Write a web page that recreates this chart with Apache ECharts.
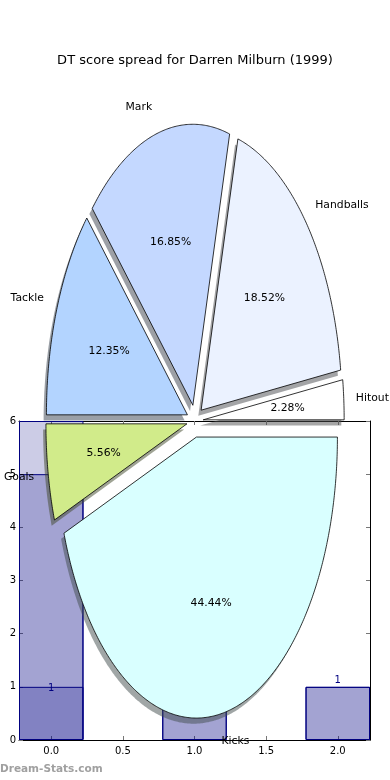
<!DOCTYPE html>
<html>
<head>
<meta charset="utf-8">
<script src="https://cdn.jsdelivr.net/npm/echarts@6/dist/echarts.min.js"></script>
<style>html,body{margin:0;padding:0;background:#fff}#c{width:390px;height:780px}</style>
</head>
<body>
<div id="c"></div>
<script>
// ---- data ----
const titleText = 'DT score spread for Darren Milburn (1999)';
const pieNames = ['Hitout', 'Handballs', 'Mark', 'Tackle', 'Goals', 'Kicks'];
const pieValues = [2.28, 18.52, 16.85, 12.35, 5.56, 44.44];
const barX = [0, 1, 2];
const barLayer1 = [6, 2, 1];
const barLayer2 = [5, 2, 1];
const barLayer3 = [1];
const xTicks = [0, 0.5, 1, 1.5, 2];
const yTicks = [0, 1, 2, 3, 4, 5, 6];

// ---- styles ----
const pieColors = ['#ffffff', '#ebf2ff', '#c4d8ff', '#b3d4ff', '#d1eb8a', '#d9ffff'];
const FONT = 'DejaVu Sans';
const EXPLODE = 0.058, SH_DX = -0.02, SH_DY = -0.02;
const BAR_UNITS = 0.45, X_MIN = -0.225, X_MAX = 2.225;
const G1 = {left: 19, top: 421, width: 351, height: 319};
const barWidthPx = G1.width * BAR_UNITS / (X_MAX - X_MIN);

const total = pieValues.reduce((a, b) => a + b, 0);
const startAcc = [];
{ let acc = 0; pieValues.forEach(v => { startAcc.push(acc); acc += v; }); }

function wedge(api, i, v, dx, dy) {
  const a0 = startAcc[i] / total * 2 * Math.PI;
  const a1 = (startAcc[i] + v) / total * 2 * Math.PI;
  const mid = (a0 + a1) / 2;
  const cx = EXPLODE * Math.cos(mid) + dx, cy = EXPLODE * Math.sin(mid) + dy;
  const pts = [api.coord([cx, cy])];
  const n = Math.max(4, Math.ceil((a1 - a0) / (Math.PI / 360)));
  for (let k = 0; k <= n; k++) {
    const a = a0 + (a1 - a0) * k / n;
    pts.push(api.coord([cx + Math.cos(a), cy + Math.sin(a)]));
  }
  return {pts, mid, cx, cy};
}
function shadowColor(hex) {
  const r = parseInt(hex.slice(1, 3), 16), g = parseInt(hex.slice(3, 5), 16), b = parseInt(hex.slice(5, 7), 16);
  return 'rgba(' + Math.round(r * 0.3) + ',' + Math.round(g * 0.3) + ',' + Math.round(b * 0.3) + ',0.5)';
}

const pieData = pieValues.map((v, i) => [i, v]);
const barFill = 'rgba(0,0,128,0.2)';
const barBase = {
  type: 'bar', xAxisIndex: 0, yAxisIndex: 0, barWidth: barWidthPx, barGap: '-100%', z: 2,
  itemStyle: {color: barFill, borderColor: '#000080', borderWidth: 1}
};
const tickStyle = {show: true, inside: true, length: 4, lineStyle: {color: '#777', width: 1}};

const chart = echarts.init(document.getElementById('c'), null, {renderer: 'canvas'});
chart.setOption({
  animation: false,
  backgroundColor: '#fff',
  title: {text: titleText, left: 'center', top: 54, padding: 0,
    textStyle: {fontSize: 13, fontWeight: 'normal', color: '#000', fontFamily: FONT}},
  graphic: [{type: 'text', left: 0, top: 764, style: {text: 'Dream-Stats.com', fill: '#a0a0a0',
    font: 'bold 10.5px "DejaVu Sans"'}}],
  grid: [
    Object.assign({}, G1, {containLabel: false}),
    {left: 54, top: 140, width: 282, height: 562, containLabel: false}
  ],
  xAxis: [
    {type: 'value', gridIndex: 0, min: X_MIN, max: X_MAX, position: 'bottom',
      axisLine: {show: true, onZero: false, lineStyle: {color: '#000', width: 1}},
      axisTick: Object.assign({customValues: xTicks}, tickStyle),
      axisLabel: {customValues: xTicks, formatter: v => v.toFixed(1), fontSize: 10, color: '#000', fontFamily: FONT, margin: 6},
      splitLine: {show: false}},
    {type: 'value', gridIndex: 0, min: X_MIN, max: X_MAX, position: 'top',
      axisLine: {show: true, onZero: false, lineStyle: {color: '#000', width: 1}},
      axisTick: Object.assign({customValues: xTicks}, tickStyle),
      axisLabel: {show: false}, splitLine: {show: false}},
    {type: 'value', gridIndex: 1, min: -1, max: 1, show: false}
  ],
  yAxis: [
    {type: 'value', gridIndex: 0, min: 0, max: 6, interval: 1, position: 'left',
      axisLine: {show: true, onZero: false, lineStyle: {color: '#000', width: 1}},
      axisTick: tickStyle,
      axisLabel: {fontSize: 10, color: '#000', fontFamily: FONT, margin: 3},
      splitLine: {show: false}},
    {type: 'value', gridIndex: 0, min: 0, max: 6, interval: 1, position: 'right',
      axisLine: {show: true, onZero: false, lineStyle: {color: '#000', width: 1}},
      axisTick: tickStyle, axisLabel: {show: false}, splitLine: {show: false}},
    {type: 'value', gridIndex: 1, min: -1, max: 1, show: false}
  ],
  series: [
    Object.assign({}, barBase, {name: 'l1', data: barX.map((x, i) => [x, barLayer1[i]]), label: {show: false}}),
    Object.assign({}, barBase, {name: 'l2', data: barX.map((x, i) => [x, barLayer2[i]]),
      label: {show: true, position: 'top', distance: 1, color: '#000080', fontSize: 10, fontFamily: FONT, formatter: p => p.value[1]}}),
    Object.assign({}, barBase, {name: 'l3', data: barLayer3.map((v, i) => [barX[i], v]),
      label: {show: true, position: 'top', distance: -6.5, color: '#000080', fontSize: 10, fontFamily: FONT, formatter: p => p.value[1]}}),
    {
      type: 'custom', name: 'shadow', xAxisIndex: 2, yAxisIndex: 2, z: 4, clip: false, silent: true,
      data: pieData,
      renderItem: (params, api) => {
        const i = params.dataIndex, v = api.value(1);
        const w = wedge(api, i, v, SH_DX, SH_DY);
        return {type: 'polygon', shape: {points: w.pts}, style: {fill: shadowColor(pieColors[i]), stroke: null}};
      }
    },
    {
      type: 'custom', name: 'pie', xAxisIndex: 2, yAxisIndex: 2, z: 5, clip: false, silent: true,
      data: pieData,
      renderItem: (params, api) => {
        const i = params.dataIndex, v = api.value(1);
        const w = wedge(api, i, v, 0, 0);
        const lx = w.cx + 1.1 * Math.cos(w.mid), ly = w.cy + 1.1 * Math.sin(w.mid);
        const lp = api.coord([lx, ly]);
        const pp = api.coord([w.cx + 0.6 * Math.cos(w.mid), w.cy + 0.6 * Math.sin(w.mid)]);
        return {type: 'group', children: [
          {type: 'polygon', shape: {points: w.pts}, style: {fill: pieColors[i], stroke: '#000', lineWidth: 0.8}},
          {type: 'text', z2: 10, style: {text: pieNames[i], x: lp[0] + (lx > 0 ? -2 : 0), y: lp[1], align: lx > 0 ? 'left' : 'right',
            verticalAlign: 'middle', fill: '#000', fontSize: 10.8, fontFamily: FONT}},
          {type: 'text', z2: 10, style: {text: (v / total * 100).toFixed(2) + '%', x: pp[0], y: pp[1], align: 'center',
            verticalAlign: 'middle', fill: '#000', fontSize: 10.8, fontFamily: FONT}}
        ]};
      }
    }
  ]
});
</script>
</body>
</html>
